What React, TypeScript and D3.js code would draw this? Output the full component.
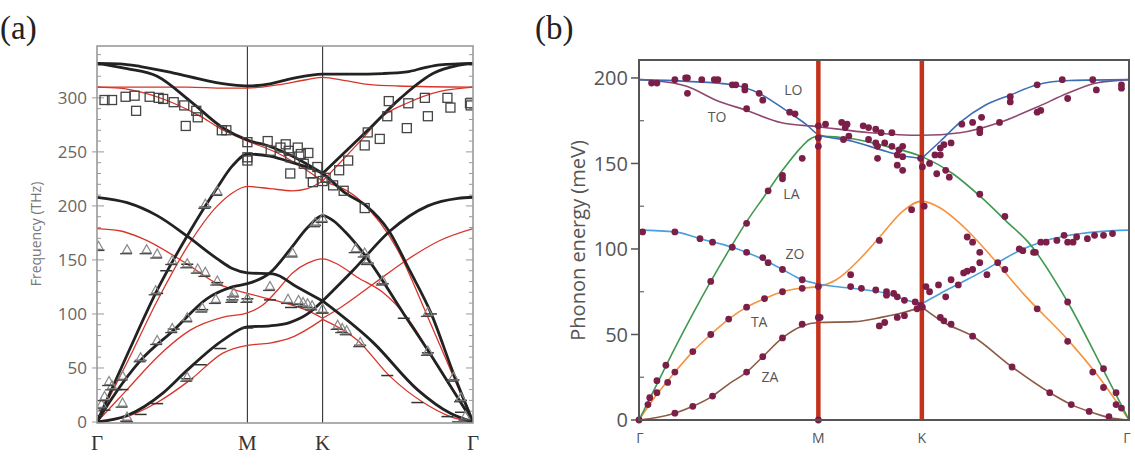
import React from 'react';
import * as d3 from 'd3';

type P = [number, number];

// ---------------- Panel (a) ----------------
const symLabelsA = ['Γ', 'M', 'K', 'Γ'];
const symPosA = [0, 1, 1.5, 2.5];
const yTicksA = [0, 50, 100, 150, 200, 250, 300];

// black (thick) bands
const toBlackA: P[] = [[0, 332], [0.15, 331.5], [0.29, 329], [0.51, 323], [0.73, 316], [0.9, 312], [1, 311], [1.15, 313], [1.3, 318], [1.5, 322], [1.7, 322], [1.9, 322.5], [2.06, 324], [2.18, 328], [2.28, 330.5], [2.5, 332]];
const loBlackA: P[] = [[0, 332], [0.2, 327], [0.4, 320], [0.62, 297], [0.84, 272], [1, 261], [1.15, 255], [1.3, 246], [1.5, 230], [1.8, 270], [2.02, 300], [2.24, 323], [2.4, 330], [2.5, 332]];
const laBlackA: P[] = [[0, 0], [0.2, 62], [0.4, 122], [0.62, 177], [0.8, 217], [0.9, 237], [1, 248], [1.15, 246], [1.3, 240], [1.5, 230], [1.65, 212], [1.79, 200], [1.94, 177], [2.08, 140], [2.22, 101], [2.37, 45], [2.5, 0]];
const taBlackA: P[] = [[0, 0], [0.1, 22], [0.29, 57], [0.51, 85], [0.73, 114], [0.9, 125], [1, 128], [1.15, 138], [1.28, 159], [1.4, 180], [1.5, 191], [1.575, 186], [1.65, 176], [1.8, 151], [2.04, 100], [2.22, 62], [2.36, 31], [2.5, 0]];
const zaBlackA: P[] = [[0, 0], [0.2, 6], [0.44, 27], [0.6, 48], [0.84, 76], [1, 88], [1.15, 89], [1.28, 92], [1.4, 100], [1.5, 112], [1.84, 73], [2.13, 30], [2.35, 8], [2.5, 0]];
const zoBlackA: P[] = [[0, 208], [0.2, 203], [0.4, 191], [0.6, 172], [0.8, 151], [0.9, 142], [1, 138], [1.17, 137], [1.33, 125], [1.5, 112], [1.7, 140], [1.95, 177], [2.2, 200], [2.4, 207], [2.5, 208]];

// red (thin) bands
const toRedA: P[] = [[0, 310], [0.3, 310], [0.6, 310], [0.85, 309], [1, 309], [1.2, 312], [1.4, 317], [1.5, 319], [1.65, 316], [1.8, 312.5], [2.0, 311], [2.5, 310]];
const loRedA: P[] = [[0, 310], [0.15, 309], [0.3, 305], [0.51, 295], [0.7, 282], [0.84, 270], [1, 260], [1.2, 249], [1.35, 237], [1.5, 223], [1.77, 263], [1.9, 283], [2.06, 295], [2.28, 306], [2.5, 310]];
const laRedA: P[] = [[0, 0], [0.2, 55], [0.4, 112], [0.6, 162], [0.8, 200], [0.9, 212], [1, 218], [1.15, 216], [1.3, 214], [1.4, 216], [1.5, 223], [1.75, 205], [2.0, 159], [2.2, 97], [2.37, 42], [2.5, 0]];
const taRedA: P[] = [[0, 0], [0.2, 30], [0.4, 60], [0.62, 85], [0.84, 97], [1, 101], [1.1, 108], [1.2, 122], [1.3, 138], [1.4, 147], [1.5, 151], [1.6, 146], [1.73, 134], [1.9, 120], [2.06, 97], [2.28, 48], [2.5, 0]];
const zaRedA: P[] = [[0, 0], [0.2, 5], [0.4, 18], [0.62, 39], [0.84, 64], [1, 71], [1.15, 73], [1.29, 78], [1.4, 86], [1.5, 95], [1.73, 76], [1.95, 42], [2.17, 18], [2.35, 5], [2.5, 0]];
const zoRedA: P[] = [[0, 179], [0.15, 177], [0.3, 170], [0.59, 147], [0.8, 128], [1, 119], [1.17, 113], [1.4, 103], [1.5, 96], [1.62, 106], [1.84, 128], [2.06, 150], [2.28, 168], [2.5, 179]];

const squaresA: P[] = [
  [0.05, 298], [0.1, 298], [0.19, 301], [0.25, 302], [0.26, 288], [0.35, 301], [0.41, 300], [0.44, 299], [0.51, 296], [0.58, 293], [0.59, 274], [0.66, 288], [0.67, 282], [0.83, 270], [0.86, 270], [1.0, 259], [1.0, 245], [1.0, 242],
  [1.135, 260], [1.155, 251], [1.22, 254], [1.255, 257], [1.275, 251], [1.285, 245], [1.285, 230], [1.335, 254], [1.355, 248], [1.375, 239], [1.405, 249], [1.42, 230], [1.435, 222], [1.465, 236], [1.5, 223],
  [1.52, 226], [1.57, 219], [1.61, 233], [1.64, 214], [1.67, 242], [1.78, 198], [1.8, 268], [1.78, 256], [1.88, 262], [1.93, 283], [1.94, 297], [2.06, 272], [2.07, 295], [2.18, 300], [2.2, 283], [2.33, 300], [2.35, 291], [2.48, 295], [2.485, 293],
];
const trianglesA: P[] = [
  [0.01, 163], [0.2, 160], [0.33, 160], [0.4, 156], [0.5, 150], [0.6, 147], [0.67, 142], [0.72, 139], [0.8, 131], [0.91, 120], [1.0, 115],
  [0.39, 122], [0.4, 76], [0.5, 87], [0.6, 97], [0.7, 106], [0.79, 114], [0.9, 115],
  [0.29, 60], [0.17, 43], [0.1, 34], [0.17, 18], [0.03, 17], [0.2, 5], [0.6, 42], [0.72, 202], [0.8, 214], [0.05, 24], [0.08, 38],
  [1.15, 126], [1.27, 114], [1.34, 113], [1.37, 111], [1.4, 110], [1.43, 108], [1.5, 105], [1.3, 157], [1.45, 185], [1.5, 189],
  [1.6, 90], [1.63, 87], [1.66, 85], [1.75, 74], [1.72, 161], [1.78, 157], [1.9, 131], [2.2, 102], [2.2, 66], [2.37, 42], [2.42, 23], [2.45, 6], [1.8, 150],
];
const dashesA: P[] = [
  [0, 6], [0.05, 11], [0.13, 30], [0.17, 30], [0.29, 7], [0.2, 0], [0.4, 17], [0.69, 53], [0.82, 68], [1.0, 87], [0.51, 86], [1.0, 114], [1.15, 113], [1.29, 106],
  [1.5, 101], [1.75, 71], [1.9, 128], [1.93, 43], [2.04, 96], [2.13, 18], [2.22, 100], [2.2, 64], [2.33, 5], [2.37, 39], [2.4, 0], [2.42, 20], [2.42, 9], [2.48, 0],
  [0.8, 129], [0.01, 159], [0.6, 146], [0.46, 140], [0.4, 119], [0.6, 40], [0.7, 104], [0.9, 113], [0.29, 57], [0.72, 199], [1.45, 182], [1.8, 147],
];

// ---------------- Panel (b) ----------------
const symLabelsB = ['Γ', 'M', 'K', 'Γ'];
const symPosB = [0, 1, 1.577, 2.732];
const yTicksB = [0, 50, 100, 150, 200];
const yMinorB = [25, 75, 125, 175];

const loB: P[] = [[0, 199], [0.27, 198], [0.52, 196], [0.67, 191], [0.82, 181], [0.93, 173], [1, 167], [1.19, 163], [1.38, 157], [1.47, 154.5], [1.577, 153], [1.68, 163], [1.79, 174], [1.93, 184], [2.07, 190], [2.22, 196], [2.4, 198.5], [2.732, 199]];
const toB: P[] = [[0, 199], [0.08, 198.5], [0.27, 195], [0.43, 187], [0.6, 181], [0.79, 174], [1, 171.5], [1.29, 168], [1.577, 166.5], [1.79, 168], [2.01, 174], [2.22, 183], [2.39, 191], [2.55, 197], [2.732, 199]];
const laB: P[] = [[0, 0], [0.1, 21], [0.2, 42], [0.3, 62], [0.4, 81], [0.5, 99], [0.6, 116], [0.7, 131], [0.8, 146], [0.9, 159], [0.95, 164], [1, 166], [1.19, 164.5], [1.38, 160], [1.577, 154], [1.75, 144], [1.9, 131], [2.05, 116], [2.17, 104], [2.39, 69], [2.59, 29], [2.732, 0]];
const zoB: P[] = [[0, 111], [0.2, 110], [0.34, 106], [0.52, 101], [0.6, 98], [0.69, 94], [0.8, 88], [0.91, 82], [1, 79.5], [1.19, 77], [1.38, 74], [1.48, 70.5], [1.577, 68], [1.68, 74], [1.79, 80], [1.9, 86], [2.0, 92], [2.12, 99], [2.24, 104], [2.4, 108], [2.55, 110], [2.732, 111]];
const taB: P[] = [[0, 0], [0.1, 15], [0.2, 28], [0.3, 40], [0.4, 50], [0.5, 59], [0.6, 66], [0.7, 71], [0.8, 75], [0.9, 77], [1, 78], [1.1, 82], [1.23, 94], [1.35, 108], [1.47, 122], [1.577, 128], [1.68, 124], [1.81, 113], [1.97, 95], [2.15, 73], [2.39, 47], [2.55, 27], [2.732, 0]];
const zaB: P[] = [[0, 0], [0.1, 1.5], [0.2, 4], [0.3, 8], [0.41, 14], [0.5, 21], [0.6, 28], [0.69, 37], [0.8, 48], [0.91, 55], [1, 57], [1.2, 57.5], [1.35, 60], [1.48, 63], [1.577, 66], [1.7, 57], [1.86, 49], [2.08, 31], [2.29, 16], [2.41, 9], [2.51, 5], [2.62, 1.5], [2.732, 0]];

const dotsB: P[] = [
  [0.07, 197], [0.1, 197], [0.2, 199], [0.26, 200], [0.27, 200], [0.27, 191], [0.35, 199], [0.42, 199], [0.44, 199], [0.52, 196], [0.54, 196], [0.59, 195], [0.59, 193], [0.67, 191], [0.69, 187], [0.6, 182], [0.84, 180], [0.87, 179], [1.0, 172], [1.04, 173], [1.0, 165], [1.0, 160], [0.91, 153], [0.8, 143], [0.8, 141], [0.72, 134], [0.6, 115],
  [0.02, 110], [0.2, 110], [0.34, 106], [0.41, 104], [0.52, 101], [0.6, 98], [0.69, 95], [0.72, 92], [0.8, 88], [0.91, 82], [1.0, 78], [0.4, 81],
  [0.7, 71], [0.8, 75], [0.91, 77], [0.6, 66], [0.5, 59], [0.4, 50], [0.3, 40], [0.2, 28], [0.15, 32], [0.1, 23], [0.16, 22], [0.1, 16], [0.06, 13], [0.05, 9], [0, 0], [1.0, 0],
  [0.91, 56], [1.0, 60], [0.8, 48], [0.69, 37], [0.6, 28], [0.41, 14], [0.3, 8], [0.2, 4],
  [1.13, 174], [1.16, 173], [1.15, 171], [1.25, 172], [1.28, 171], [1.32, 170], [1.35, 168], [1.41, 168], [1.14, 164], [1.17, 166], [1.28, 164], [1.32, 162], [1.33, 160], [1.37, 162], [1.41, 160], [1.45, 158], [1.47, 160], [1.44, 155], [1.47, 154], [1.33, 153], [1.44, 149], [1.47, 146],
  [1.57, 153], [1.58, 148], [1.62, 150], [1.65, 155], [1.68, 155], [1.7, 161], [1.74, 162], [1.68, 159], [1.66, 144], [1.71, 146], [1.73, 142],
  [1.8, 173], [1.86, 174], [1.91, 177], [1.9, 170], [1.9, 168], [2.01, 174], [2.07, 189], [2.07, 186], [2.22, 196], [2.22, 180], [2.24, 181], [2.39, 188], [2.36, 199], [2.53, 199], [2.55, 193], [2.69, 196], [2.69, 194],
  [1.9, 132], [2.04, 119], [1.52, 123], [1.59, 125], [1.34, 105], [1.83, 107], [1.86, 104], [1.9, 98], [2.12, 100], [2.2, 98], [2.24, 104], [2.27, 104], [2.33, 105], [2.39, 104], [2.42, 104], [2.44, 107], [2.5, 106], [2.54, 108], [2.59, 108], [2.64, 109], [2.37, 108],
  [1.18, 85], [1.18, 78], [1.24, 77], [1.32, 76], [1.38, 75], [1.38, 73], [1.42, 74], [1.44, 72], [1.48, 70], [1.54, 69], [1.57, 67], [1.58, 66], [1.55, 65],
  [1.34, 55], [1.37, 57], [1.44, 60], [1.48, 61], [1.01, 60],
  [1.6, 78], [1.62, 75], [1.67, 79], [1.71, 72], [1.74, 82], [1.78, 79], [1.81, 86], [1.83, 87], [1.86, 88], [1.9, 92], [1.94, 85], [2.0, 92], [2.04, 88], [2.22, 65], [2.14, 99], [2.21, 98],
  [2.39, 69], [2.39, 46], [2.53, 28], [2.59, 30], [2.59, 19], [2.66, 16], [2.66, 9], [2.69, 7],
  [1.68, 60], [1.7, 58], [1.74, 56], [1.86, 49], [2.08, 31], [2.29, 16], [2.41, 9], [2.51, 5], [2.62, 2],
];

const bandLabelsB: { text: string; k: number; v: number }[] = [
  { text: 'LO', k: 0.86, v: 193 },
  { text: 'TO', k: 0.435, v: 177 },
  { text: 'LA', k: 0.85, v: 132 },
  { text: 'ZO', k: 0.87, v: 97 },
  { text: 'TA', k: 0.67, v: 57 },
  { text: 'ZA', k: 0.73, v: 25 },
];

// split a band into pieces at the given k (cusps)
function pieces(pts: P[], splits: number[]): P[][] {
  const out: P[][] = [];
  let cur: P[] = [];
  for (const p of pts) {
    cur.push(p);
    if (splits.some((s) => Math.abs(s - p[0]) < 1e-9) && cur.length > 1) {
      out.push(cur);
      cur = [p];
    }
  }
  if (cur.length > 1) out.push(cur);
  return out;
}

export default function App() {
  const xA = d3.scaleLinear().domain([0, 2.5]).range([97, 473]);
  const yA = d3.scaleLinear().domain([0, 348]).range([422, 46]);
  const xB = d3.scaleLinear().domain([0, 2.732]).range([639, 1129]);
  const yB = d3.scaleLinear().domain([0, 210.5]).range([420, 60]);

  const lineA = d3.line<P>().x((d) => xA(d[0])).y((d) => yA(d[1])).curve(d3.curveMonotoneX);
  const lineB = d3.line<P>().x((d) => xB(d[0])).y((d) => yB(d[1])).curve(d3.curveMonotoneX);

  const KA = 1.5;
  const KB = 1.577;

  const blackA: { pts: P[]; split: number[] }[] = [
    { pts: toBlackA, split: [] },
    { pts: loBlackA, split: [KA] },
    { pts: laBlackA, split: [] },
    { pts: taBlackA, split: [] },
    { pts: zaBlackA, split: [KA] },
    { pts: zoBlackA, split: [KA] },
  ];
  const redA: { pts: P[]; split: number[] }[] = [
    { pts: toRedA, split: [] },
    { pts: loRedA, split: [KA] },
    { pts: laRedA, split: [KA] },
    { pts: taRedA, split: [] },
    { pts: zaRedA, split: [KA] },
    { pts: zoRedA, split: [KA] },
  ];
  const bandsB: { pts: P[]; split: number[]; color: string }[] = [
    { pts: zaB, split: [KB], color: '#8c5a45' },
    { pts: taB, split: [], color: '#f7923f' },
    { pts: zoB, split: [KB], color: '#4a9fe0' },
    { pts: laB, split: [], color: '#3f9a50' },
    { pts: toB, split: [], color: '#8e4870' },
    { pts: loB, split: [KB], color: '#3d6db5' },
  ];

  const minorA = d3.range(0, 341, 10);
  const sq = 9;
  const tri = 9;

  return (
    <svg width={1135} height={468} style={{ position: 'absolute', left: 0, top: 0, display: 'block', background: '#fff' }}>
      {/* ---------- Panel (a) ---------- */}
      <text x={0} y={39} fontFamily="'Liberation Serif', 'DejaVu Serif', serif" fontSize={33} fill="#222">(a)</text>
      <defs>
        <clipPath id="clipA">
          <rect x={97} y={46} width={376} height={377} />
        </clipPath>
        <clipPath id="clipB">
          <rect x={639} y={60} width={490} height={360} />
        </clipPath>
      </defs>
      {minorA.map((v) => {
        const major = v % 50 === 0;
        return (
          <g key={'ta' + v} stroke="#999" strokeWidth={1}>
            <line x1={major ? 92 : 97} x2={major ? 104 : 101} y1={yA(v)} y2={yA(v)} />
            <line x1={major ? 466 : 469} x2={473} y1={yA(v)} y2={yA(v)} />
          </g>
        );
      })}
      {yTicksA.map((v) => (
        <text key={'la' + v} x={87} y={yA(v)} dy="0.35em" textAnchor="end" fontFamily="'Open Sans', 'Noto Sans', sans-serif" fontSize={17} fill="#666">
          {v}
        </text>
      ))}
      <text transform={`translate(36,${yA(174)}) rotate(-90)`} textAnchor="middle" dy="0.35em" fontFamily="'Open Sans', 'Noto Sans', sans-serif" fontSize={14} fill="#777">
        Frequency (THz)
      </text>
      {symPosA.map((k, i) => (
        <text key={'sa' + i} x={xA(k)} y={450} textAnchor="middle" fontFamily="'Liberation Serif', 'DejaVu Serif', serif" fontSize={21} fill="#333">
          {symLabelsA[i]}
        </text>
      ))}
      {[1, 1.5].map((k) => (
        <line key={'va' + k} x1={xA(k)} x2={xA(k)} y1={46} y2={423} stroke="#333" strokeWidth={1.1} />
      ))}
      <g clipPath="url(#clipA)">
        {redA.flatMap((b, i) =>
          pieces(b.pts, b.split).map((p, j) => (
            <path key={'ra' + i + '-' + j} d={lineA(p) || ''} fill="none" stroke="#d8352a" strokeWidth={1.3} />
          ))
        )}
        {blackA.flatMap((b, i) =>
          pieces(b.pts, b.split).map((p, j) => (
            <path key={'ba' + i + '-' + j} d={lineA(p) || ''} fill="none" stroke="#222" strokeWidth={2.8} />
          ))
        )}
        {dashesA.map((d, i) => (
          <line key={'da' + i} x1={xA(d[0]) - 6} x2={xA(d[0]) + 6} y1={yA(d[1])} y2={yA(d[1])} stroke="#333" strokeWidth={1.5} />
        ))}
        {trianglesA.map((d, i) => {
          const cx = xA(d[0]);
          const cy = yA(d[1]);
          return (
            <g key={'tr' + i}>
              <path d={`M${cx - tri / 2},${cy + tri * 0.4} L${cx + tri / 2},${cy + tri * 0.4} L${cx},${cy - tri * 0.5} Z`} fill="none" stroke="#888" strokeWidth={1.2} />
              <line x1={cx - 7} x2={cx + 5} y1={cy + tri * 0.4 + 1} y2={cy + tri * 0.4 + 1} stroke="#444" strokeWidth={1.3} />
            </g>
          );
        })}
        {squaresA.map((d, i) => (
          <rect key={'sq' + i} x={xA(d[0]) - sq / 2} y={yA(d[1]) - sq / 2} width={sq} height={sq} fill="none" stroke="#444" strokeWidth={1.3} />
        ))}
      </g>
      <rect x={97} y={46} width={376} height={377} fill="none" stroke="#9a9a9a" strokeWidth={1.6} />

      {/* ---------- Panel (b) ---------- */}
      <text x={535} y={39} fontFamily="'Liberation Serif', 'DejaVu Serif', serif" fontSize={33} fill="#222">(b)</text>
      {yTicksB.map((v) => (
        <g key={'tb' + v}>
          <line x1={631} x2={639} y1={yB(v)} y2={yB(v)} stroke="#555" strokeWidth={1.5} />
          <text x={628} y={yB(v)} dy="0.36em" textAnchor="end" fontFamily="'Open Sans', 'Noto Sans', sans-serif" fontSize={20} fill="#555">
            {v}
          </text>
        </g>
      ))}
      {yMinorB.map((v) => (
        <line key={'mb' + v} x1={639} x2={644} y1={yB(v)} y2={yB(v)} stroke="#666" strokeWidth={1.2} />
      ))}
      <text transform={`translate(578,${yB(105)}) rotate(-90)`} textAnchor="middle" dy="0.35em" fontFamily="'Open Sans', 'Noto Sans', sans-serif" fontSize={20} fill="#555">
        Phonon energy (meV)
      </text>
      {symPosB.map((k, i) => (
        <text key={'sb' + i} x={xB(k) + (i === 3 ? -2 : i === 0 ? 1 : 0)} y={443} textAnchor="middle" fontFamily="'Open Sans', 'Noto Sans', sans-serif" fontSize={14} fill="#555">
          {symLabelsB[i]}
        </text>
      ))}
      <g clipPath="url(#clipB)">
        {bandsB.flatMap((b, i) =>
          pieces(b.pts, b.split).map((p, j) => (
            <path key={'bb' + i + '-' + j} d={lineB(p) || ''} fill="none" stroke={b.color} strokeWidth={1.6} />
          ))
        )}
      </g>
      {[1, KB].map((k) => (
        <line key={'vb' + k} x1={xB(k)} x2={xB(k)} y1={60} y2={420} stroke="#c4321c" strokeWidth={4.5} />
      ))}
      <g>
        {dotsB.map((d, i) => (
          <circle key={'db' + i} cx={xB(d[0])} cy={yB(d[1])} r={3.4} fill="#7b1f48" />
        ))}
      </g>
      {bandLabelsB.map((l) => (
        <text key={l.text} x={xB(l.k)} y={yB(l.v)} dy="0.35em" textAnchor="middle" fontFamily="'Open Sans', 'Noto Sans', sans-serif" fontSize={14} fill="#555">
          {l.text}
        </text>
      ))}
      <rect x={639} y={60} width={490} height={360} fill="none" stroke="#555" strokeWidth={2} />
    </svg>
  );
}
